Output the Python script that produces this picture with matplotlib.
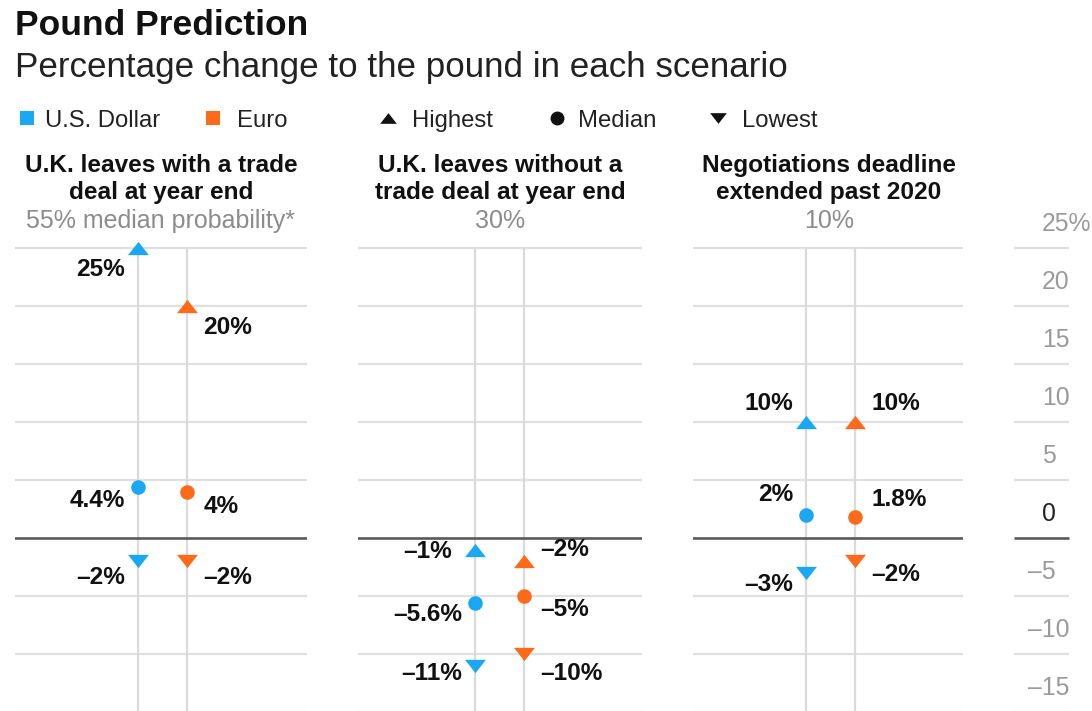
import matplotlib
matplotlib.use("Agg")
import matplotlib.pyplot as plt

plt.rcParams["font.family"] = ["Liberation Sans", "DejaVu Sans"]

# data
scenarios = [
    ["U.K. leaves with a trade", "deal at year end"],
    ["U.K. leaves without a", "trade deal at year end"],
    ["Negotiations deadline", "extended past 2020"],
]
probabilities = ["55% median probability*", "30%", "10%"]
currencies = ["U.S. Dollar", "Euro"]
usd_high = [25, -1, 10]
usd_median = [4.4, -5.6, 2]
usd_low = [-2, -11, -3]
eur_high = [20, -2, 10]
eur_median = [4, -5, 1.8]
eur_low = [-2, -10, -2]
y_ticks = [25, 20, 15, 10, 5, 0, -5, -10, -15]

# layout (pixels of a 1092x711 canvas)
W, H = 1092, 711
ZERO_PX, PX_PER_UNIT, AXES_TOP = 538, 11.6, 236
panel_px = [(15, 307), (358, 642), (693, 963)]
usd_px = [138, 475, 806]
LINE_GAP = 48.5
# label offsets in pixels, (+ = down)
usd_dy = [[22, 14, 16], [2, 12, 8], [-19, -20, 12]]
eur_dy = [[22, 15, 16], [-12, 14, 20], [-19, -18, 13]]

BLUE = "#1ba8f2"
ORANGE = "#fc6a1c"
GRID = "#e0e0e0"
ZERO = "#5a5a5a"
VLINE = "#dadada"
TXT = "#111111"
GREY = "#8c8c8c"

UP = [(-1, -0.64), (1, -0.64), (0, 0.64)]
DOWN = [(-1, 0.64), (1, 0.64), (0, -0.64)]
TRI_MS = 15
DOT_MS = 10.5
FS = 17.6


def fx(px):
    return px / W


def fy(py):
    return 1 - py / H


def pt(px):
    return px * 72 / 100


fig = plt.figure(figsize=(W / 100, H / 100), dpi=100)
fig.patch.set_facecolor("white")

ylim = (-(H - ZERO_PX) / PX_PER_UNIT, (ZERO_PX - AXES_TOP) / PX_PER_UNIT)
ax_h = (H - AXES_TOP) / H

fig.text(fx(15), fy(35), "Pound Prediction", fontsize=25.5, fontweight="bold",
         color=TXT, va="baseline")
fig.text(fx(15), fy(77), "Percentage change to the pound in each scenario",
         fontsize=25.2, color="#222222", va="baseline")

# legend row
leg = fig.add_axes([0, fy(140), 1, (140 - 95) / H])
leg.set_xlim(0, W)
leg.set_ylim(140, 95)
leg.axis("off")
leg_items = [
    (27, 45, "s", BLUE, 10, currencies[0]),
    (213, 237, "s", ORANGE, 10, currencies[1]),
    (388, 412, UP, "#111111", 12, "Highest"),
    (557, 578, "o", "#111111", 10, "Median"),
    (718, 742, DOWN, "#111111", 12, "Lowest"),
]
for mx, tx, mk, col, ms, lab in leg_items:
    leg.plot([mx], [118], marker=mk, color=col, ms=ms, linestyle="none",
             markeredgewidth=0)
    leg.text(tx, 127, lab, fontsize=17.2, color="#222222", va="baseline")

highs = [usd_high, eur_high]
medians = [usd_median, eur_median]
lows = [usd_low, eur_low]
colors = [BLUE, ORANGE]
dys = [usd_dy, eur_dy]

for i, ((l, r), ux) in enumerate(zip(panel_px, usd_px)):
    ax = fig.add_axes([fx(l), 0, (r - l) / W, ax_h])
    ax.set_xlim((l - ux) / LINE_GAP, (r - ux) / LINE_GAP)
    ax.set_ylim(*ylim)
    ax.axis("off")
    for t in y_ticks:
        if t == 0:
            continue
        ax.axhline(t, color=GRID, lw=1.6, zorder=1)
    ax.axhline(0, color=ZERO, lw=1.9, zorder=2)
    ax.vlines([0, 1], -15, 25, color=VLINE, lw=1.6, zorder=1)

    for c in range(2):
        vals = [highs[c][i], medians[c][i], lows[c][i]]
        marks = [UP, "o", DOWN]
        for k, (v, mk) in enumerate(zip(vals, marks)):
            ms = DOT_MS if mk == "o" else TRI_MS
            ax.plot([c], [v], marker=mk, color=colors[c], ms=ms,
                    markeredgewidth=0, linestyle="none", zorder=4,
                    clip_on=False)
            lab = f"{v:g}%".replace("-", "\u2013")
            dy = -pt(dys[c][i][k])
            if c == 0:
                dx = -pt(23 if (i == 1 and k == 0) else 13)
                ha = "right"
            else:
                dx = pt(17)
                ha = "left"
            ax.annotate(lab, (c, v), xytext=(dx, dy), textcoords="offset points",
                        ha=ha, va="center", fontsize=FS, fontweight="bold",
                        color=TXT, zorder=5)

    cx = (l + r) / 2 if i != 2 else 829
    fig.text(fx(cx), fy(172), scenarios[i][0], ha="center", va="baseline",
             fontsize=FS, fontweight="bold", color=TXT)
    fig.text(fx(cx), fy(199), scenarios[i][1], ha="center", va="baseline",
             fontsize=FS, fontweight="bold", color=TXT)
    fig.text(fx(cx), fy(228), probabilities[i], ha="center", va="baseline",
             fontsize=18, color=GREY)

# right-hand value axis
rax = fig.add_axes([fx(1014), 0, (W - 1014) / W, ax_h])
rax.set_xlim(0, W - 1014)
rax.set_ylim(*ylim)
rax.axis("off")
for t in y_ticks:
    if t == 0:
        rax.hlines(t, 0, 55, color=ZERO, lw=1.9)
    else:
        rax.hlines(t, 0, 55, color=GRID, lw=1.6)
    lab = str(t).replace("-", "\u2013") + ("%" if t == y_ticks[0] else "")
    rax.annotate(lab, (28 if t >= 0 else 14, t), xytext=(0, pt(17)),
                 textcoords="offset points", ha="left", va="baseline",
                 fontsize=17.8, color="#222222" if t == 0 else "#9a9a9a",
                 annotation_clip=False)

fig.savefig("out.png", dpi=100)
